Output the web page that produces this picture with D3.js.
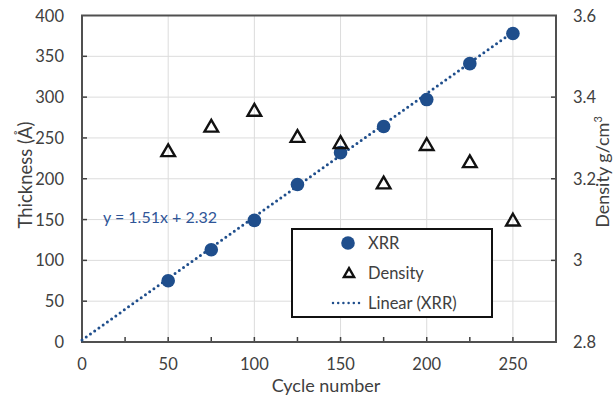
<!DOCTYPE html>
<html>
<head>
<meta charset="utf-8">
<script src="https://cdn.jsdelivr.net/npm/d3@7"></script>
<style>
  body { margin: 0; background: #fff; }
  text { font-family: Lato, "Open Sans", sans-serif; fill: #404040; }
</style>
</head>
<body>
<div id="chart"></div>
<script>
// data
const cycles = [50, 75, 100, 125, 150, 175, 200, 225, 250];
const thickness = [75, 113, 149, 193, 232, 264, 297, 341, 378];
const density = [3.265, 3.325, 3.364, 3.30, 3.285, 3.186, 3.28, 3.238, 3.095];
const fitSlope = 1.51, fitIntercept = 2.32;
const xTicks = [0, 50, 100, 150, 200, 250];
const xMinorTicks = [25, 50, 75, 100, 125, 150, 175, 200, 225, 250];
const yTicks = [0, 50, 100, 150, 200, 250, 300, 350, 400];
const y2Ticks = [2.8, 3, 3.2, 3.4, 3.6];

const width = 615, height = 397;
const m = {left: 82, right: 59, top: 15.5, bottom: 55};
const blue = '#1f4e8c';

const svg = d3.select('#chart').append('svg')
  .attr('width', width).attr('height', height);

const x = d3.scaleLinear().domain([0, 275]).range([m.left, width - m.right]);
const y = d3.scaleLinear().domain([0, 400]).range([height - m.bottom, m.top]);
const y2 = d3.scaleLinear().domain([2.8, 3.6]).range([height - m.bottom, m.top]);

// grid
const grid = svg.append('g').attr('stroke', '#dcdcdc').attr('stroke-width', 1);
grid.selectAll('.gx').data(xTicks.slice(1)).join('line')
  .attr('x1', d => x(d)).attr('x2', d => x(d))
  .attr('y1', y(0)).attr('y2', y(400));
grid.selectAll('.gy').data(yTicks.slice(1, -1)).join('line')
  .attr('x1', x(0)).attr('x2', x(275))
  .attr('y1', d => y(d)).attr('y2', d => y(d));

// ticks (inside)
const ax = svg.append('g').attr('stroke', '#404040').attr('stroke-width', 1.5);
ax.selectAll('.tx').data(xMinorTicks).join('line')
  .attr('x1', d => x(d)).attr('x2', d => x(d))
  .attr('y1', y(0)).attr('y2', y(0) - 5);
ax.selectAll('.ty').data(yTicks.slice(1, -1)).join('line')
  .attr('x1', x(0)).attr('x2', x(0) + 5)
  .attr('y1', d => y(d)).attr('y2', d => y(d));
ax.selectAll('.ty2').data(y2Ticks.slice(1, -1)).join('line')
  .attr('x1', x(275)).attr('x2', x(275) - 5)
  .attr('y1', d => y2(d)).attr('y2', d => y2(d));

// frame
svg.append('rect')
  .attr('x', x(0)).attr('y', y(400))
  .attr('width', x(275) - x(0)).attr('height', y(0) - y(400))
  .attr('fill', 'none').attr('stroke', '#505050').attr('stroke-width', 2);

// tick labels
svg.selectAll('.xl').data(xTicks).join('text')
  .attr('x', d => x(d)).attr('y', y(0) + 28)
  .attr('text-anchor', 'middle').attr('font-size', 16.5).text(d => d);
svg.selectAll('.yl').data(yTicks).join('text')
  .attr('x', x(0) - 18).attr('y', d => y(d) + 6)
  .attr('text-anchor', 'end').attr('font-size', 16.5).text(d => d);
svg.selectAll('.y2l').data(y2Ticks).join('text')
  .attr('x', x(275) + 17).attr('y', d => y2(d) + 6)
  .attr('text-anchor', 'start').attr('font-size', 16.5).text(d => d3.format('')(d));

// axis titles
svg.append('text').attr('x', 326).attr('y', 392)
  .attr('text-anchor', 'middle').attr('font-size', 18).text('Cycle number');
svg.append('text').attr('transform', 'translate(32,175) rotate(-90)')
  .attr('text-anchor', 'middle').attr('font-size', 18.5).text('Thickness (Å)');
const t2 = svg.append('text').attr('transform', 'translate(609,172) rotate(-90)')
  .attr('text-anchor', 'middle').attr('font-size', 18);
t2.append('tspan').text('Density g/cm');
t2.append('tspan').attr('dy', -7).attr('font-size', 11).text('3');

// trendline
const fit = d3.line().x(d => x(d)).y(d => y(fitSlope * d + fitIntercept));
svg.append('path').datum([0, 250]).attr('d', fit)
  .attr('fill', 'none').attr('stroke', blue).attr('stroke-width', 3)
  .attr('stroke-linecap', 'round').attr('stroke-dasharray', '0 5.2');

svg.append('text').attr('x', 103).attr('y', 223)
  .attr('font-size', 16).style('fill', '#2f5597').text('y = 1.51x + 2.32');

// XRR points
svg.selectAll('.xrr').data(cycles).join('circle')
  .attr('cx', d => x(d)).attr('cy', (d, i) => y(thickness[i]))
  .attr('r', 6.8).attr('fill', blue);

// density triangles
const tri = d3.symbol().type(d3.symbolTriangle).size(80);
svg.selectAll('.den').data(cycles).join('path')
  .attr('d', tri)
  .attr('transform', (d, i) => `translate(${x(d)},${y2(density[i])})`)
  .attr('fill', 'none').attr('stroke', '#111').attr('stroke-width', 2.4);

// legend
const lg = svg.append('g');
lg.append('rect').attr('x', 292).attr('y', 229).attr('width', 200).attr('height', 88)
  .attr('fill', '#fff').attr('stroke', '#111').attr('stroke-width', 2);
lg.append('circle').attr('cx', 348).attr('cy', 243).attr('r', 6.8).attr('fill', blue);
lg.append('path').attr('d', d3.symbol().type(d3.symbolTriangle).size(45))
  .attr('transform', 'translate(349,274)')
  .attr('fill', 'none').attr('stroke', '#111').attr('stroke-width', 2.4);
lg.append('line').attr('x1', 333).attr('x2', 359).attr('y1', 303).attr('y2', 303)
  .attr('stroke', blue).attr('stroke-width', 2.5)
  .attr('stroke-linecap', 'round').attr('stroke-dasharray', '0 5.2');
const legendLabels = ['XRR', 'Density', 'Linear (XRR)'];
lg.selectAll('.lt').data(legendLabels).join('text')
  .attr('x', 368).attr('y', (d, i) => [249, 279, 309][i])
  .attr('font-size', 16.5).text(d => d);
</script>
</body>
</html>
